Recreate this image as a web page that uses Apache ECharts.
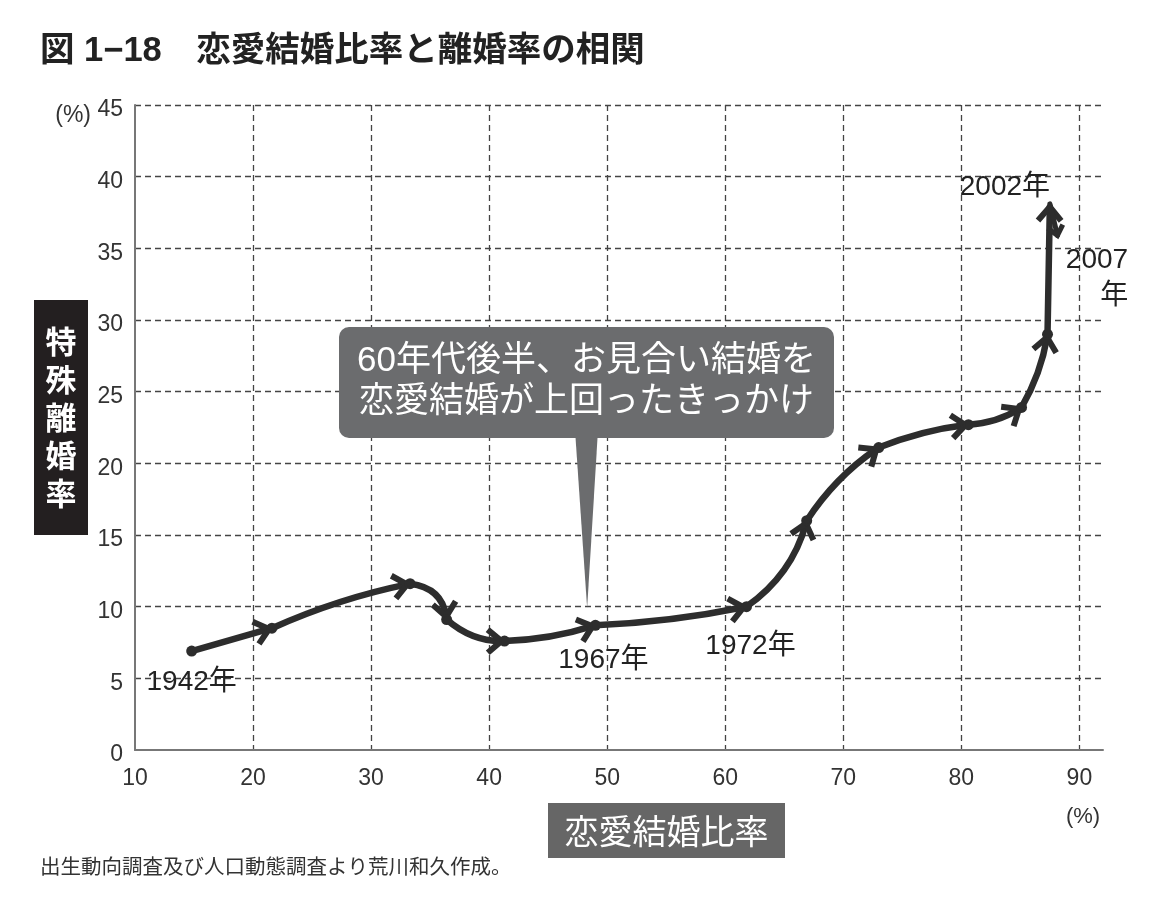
<!DOCTYPE html>
<html>
<head>
<meta charset="utf-8">
<title>恋愛結婚比率と離婚率の相関</title>
<script src="https://cdn.jsdelivr.net/npm/echarts@6/dist/echarts.min.js"></script>
<style>
  html, body { margin: 0; padding: 0; background: #fff; }
  #chart { width: 1161px; height: 898px; }
</style>
</head>
<body>
<div id="chart"></div>
<script>
// 恋愛結婚比率(%) と 特殊離婚率(%)、1942年〜2007年
var loveRatio   = [14.8, 21.6, 33.3, 36.4, 41.3, 49.0, 61.8, 66.9, 73.0, 80.6, 85.1, 87.3, 87.5, 88.2];
var divorceRate = [6.9, 8.5, 11.6, 9.1, 7.6, 8.7, 10.0, 16.0, 21.1, 22.7, 23.9, 29.0, 38.1, 35.7];
var yearLabels  = ['1942年', '', '', '', '', '1967年', '1972年', '', '', '', '', '', '2002年', '2007\n年'];
var xTicks = [10, 20, 30, 40, 50, 60, 70, 80, 90];
var yTicks = [0, 5, 10, 15, 20, 25, 30, 35, 40, 45];
var calloutLines = ['60年代後半、お見合い結婚を', '恋愛結婚が上回ったきっかけ'];
var calloutTarget = [48.3, 9.9];

// 線の曲がり具合(区間ごと)とラベル位置
var segmentBend = [0, -0.055, -0.38, 0.19, 0.07, 0.04, 0.18, -0.1, -0.065, 0.13, 0.09, 0, 0];
var labelOffset = {0: [0, 31], 5: [8, 35], 6: [4, 40], 12: [-45, -17], 13: [70, 40]};

var INK = '#2d2d2d';
var FONT = "'Liberation Sans', 'Noto Sans CJK JP', sans-serif";
var JP = "'Noto Sans CJK JP', sans-serif";

function arrowPoint(tip, dir, ang, len) {
  var c = Math.cos(ang), s = Math.sin(ang);
  var bx = -dir[0], by = -dir[1];
  return [tip[0] + (bx * c - by * s) * len, tip[1] + (bx * s + by * c) * len];
}

function renderPoint(params, api) {
  var i = params.dataIndex;
  var p = api.coord([loveRatio[i], divorceRate[i]]);
  var children = [];
  var last = i === loveRatio.length - 1;

  if (i > 0) {
    var s = api.coord([loveRatio[i - 1], divorceRate[i - 1]]);
    var dx = p[0] - s[0], dy = p[1] - s[1];
    var b = segmentBend[i - 1];
    var cx = (s[0] + p[0]) / 2 - b * dy;
    var cy = (s[1] + p[1]) / 2 + b * dx;
    var tx = p[0] - cx, ty = p[1] - cy;
    var tl = Math.sqrt(tx * tx + ty * ty);
    var dir = [tx / tl, ty / tl];
    var gap = 3;
    var tip = [p[0] - dir[0] * gap, p[1] - dir[1] * gap];
    var arm = last ? 12 : 18;
    var ang = 40 * Math.PI / 180;
    children.push({
      type: 'bezierCurve',
      shape: { x1: s[0], y1: s[1], x2: tip[0], y2: tip[1], cpx1: cx, cpy1: cy },
      style: { stroke: INK, lineWidth: last ? 5 : 6.5, fill: null, lineCap: 'round' }
    });
    children.push({
      type: 'polyline',
      shape: { points: [arrowPoint(tip, dir, ang, arm), tip, arrowPoint(tip, dir, -ang, arm)] },
      style: { stroke: INK, lineWidth: last ? 5 : 6, fill: null, lineJoin: 'miter' }
    });
  }

  if (i < 12) {
    children.push({
      type: 'circle',
      shape: { cx: p[0], cy: p[1], r: 5.5 },
      style: { fill: INK }
    });
  }

  if (yearLabels[i]) {
    var off = labelOffset[i];
    children.push({
      type: 'text',
      x: p[0] + off[0],
      y: p[1] + off[1],
      style: {
        text: yearLabels[i],
        fill: '#222',
        font: '28px ' + FONT,
        align: last ? 'right' : 'center',
        verticalAlign: 'middle',
        lineHeight: 36
      }
    });
  }
  return { type: 'group', children: children };
}

var chart = echarts.init(document.getElementById('chart'));

var option = {
  backgroundColor: '#fff',
  animation: false,
  grid: { left: 135, right: 58, top: 105, bottom: 148, outerBoundsMode: 'none' },
  xAxis: {
    type: 'value',
    min: xTicks[0],
    max: 92,
    interval: 10,
    axisLine: { show: true, onZero: false, lineStyle: { color: '#777', width: 2 } },
    axisTick: { show: false },
    axisLabel: {
      margin: 17, fontSize: 23, color: '#333', fontFamily: FONT, showMaxLabel: false,
      formatter: function (v) { return xTicks.indexOf(v) >= 0 ? String(v) : ''; }
    },
    splitLine: {
      show: true, showMinLine: false, showMaxLine: false,
      lineStyle: { color: '#444', width: 1.3, type: [6, 4] }
    }
  },
  yAxis: {
    type: 'value',
    min: yTicks[0],
    max: yTicks[yTicks.length - 1],
    interval: 5,
    axisLine: { show: true, lineStyle: { color: '#777', width: 2 } },
    axisTick: { show: false },
    axisLabel: {
      margin: 12, fontSize: 23, color: '#333', fontFamily: FONT,
      verticalAlign: 'top', lineHeight: 10
    },
    splitLine: {
      show: true, showMinLine: false,
      lineStyle: { color: '#444', width: 1.3, type: [6, 4] }
    }
  },
  series: [{
    type: 'custom',
    coordinateSystem: 'cartesian2d',
    renderItem: renderPoint,
    clip: false,
    z: 10,
    data: loveRatio.map(function (x, i) { return [x, divorceRate[i]]; })
  }]
};
chart.setOption(option);

var tipPx = chart.convertToPixel({ gridIndex: 0 }, calloutTarget);

chart.setOption({
  graphic: [
    {
      type: 'text', left: 40, top: 34,
      style: { text: '図 1−18　恋愛結婚比率と離婚率の相関', fill: '#222', font: 'bold 34.5px ' + FONT }
    },
    {
      type: 'text', x: 91, y: 116,
      style: { text: '(%)', fill: '#333', font: '23px ' + FONT, align: 'right', verticalAlign: 'middle' }
    },
    {
      type: 'text', x: 1083, y: 817,
      style: { text: '(%)', fill: '#333', font: '22px ' + FONT, align: 'center', verticalAlign: 'middle' }
    },
    {
      type: 'rect', shape: { x: 34, y: 300, width: 54, height: 235 },
      style: { fill: '#231f20' }
    },
    {
      type: 'text', x: 61, y: 417,
      style: {
        text: '特\n殊\n離\n婚\n率', fill: '#fff', font: 'bold 31px ' + JP,
        align: 'center', verticalAlign: 'middle', lineHeight: 38
      }
    },
    {
      type: 'rect', shape: { x: 548, y: 803, width: 237, height: 55 },
      style: { fill: '#666' }
    },
    {
      type: 'text', x: 666.5, y: 831,
      style: { text: '恋愛結婚比率', fill: '#fff', font: '34px ' + JP, align: 'center', verticalAlign: 'middle' }
    },
    {
      type: 'text', x: 40, y: 866,
      style: { text: '出生動向調査及び人口動態調査より荒川和久作成。', fill: '#333', font: '20.5px ' + JP, verticalAlign: 'middle' }
    },
    {
      type: 'polygon', z: 20,
      shape: { points: [[575, 430], [598, 430], tipPx] },
      style: { fill: '#6b6c6e' }
    },
    {
      type: 'rect', z: 20,
      shape: { x: 339, y: 327, width: 495, height: 111, r: 10 },
      style: { fill: '#6b6c6e' }
    },
    {
      type: 'text', z: 21, x: 586.5, y: 382,
      style: {
        text: calloutLines.join('\n'), fill: '#fff', font: '35px ' + FONT,
        align: 'center', verticalAlign: 'middle', lineHeight: 41
      }
    }
  ]
});
</script>
</body>
</html>
